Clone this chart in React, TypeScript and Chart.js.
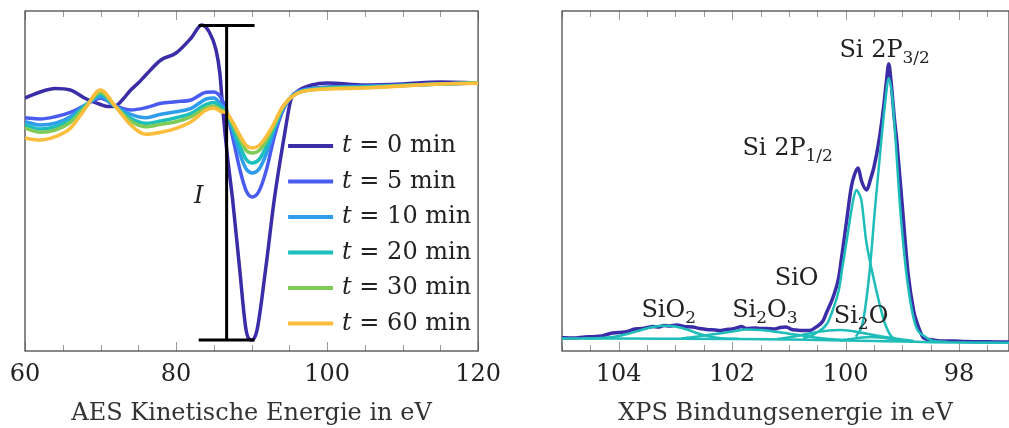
import { useEffect, useRef } from 'react';
import { Chart, registerables } from 'chart.js';

Chart.register(...registerables);

const FONT = '"DejaVu Serif", serif';
const TEXT = '#222222';

// ---------------- AES (left) ----------------
const aesTimes = [0, 5, 10, 20, 30, 60];
const aesColors = ['#3b2ca8', '#4a5cf0', '#2f9deb', '#1cbfbb', '#7ecb57', '#fbbd3c'];
const aesTickMajor = [60, 80, 100, 120];

const aesEnergyT0 = [60, 62, 64, 66, 68, 70, 71, 72, 73, 74, 75, 76, 78, 80, 82, 83.4, 84.4, 85.3, 85.8, 86.2, 86.8, 87.5, 88.4, 89.3, 90, 90.7, 91.9, 93, 94.4, 95.2, 96, 98, 100, 105, 110, 115, 120];
const aesT0 = [253, 259, 262.5, 261, 252.5, 246.5, 244.5, 245, 252, 261, 268, 276, 291, 298, 313, 326, 319, 301, 278, 241, 195, 151, 84, 20, 11, 20, 84, 151, 218, 251, 259, 266, 268, 266, 267, 269, 268];

const aesEnergy = [60, 62, 64, 66, 68, 70, 72, 74, 76, 78, 80, 82, 84, 85, 86, 86.7, 87.5, 88.5, 89.3, 90.1, 91, 92, 93, 94, 95, 96, 97, 100, 105, 110, 115, 120];
const aesT5 = [233.3, 232, 234.3, 238.7, 246, 252.7, 245.3, 241, 243.3, 247.7, 249.3, 251, 258.7, 259, 252.7, 240, 214, 180, 160, 154, 160, 182, 214, 238, 252, 259, 261.5, 264, 265, 266, 267, 268];
const aesT10 = [229.3, 226, 227.7, 234.3, 246, 254.3, 244.3, 236.7, 233.3, 236.7, 239.3, 242.7, 252, 253, 246, 239, 221, 196, 182, 178, 182, 198, 221, 240, 252, 258, 261, 263.5, 264.5, 265.5, 267, 268];
const aesT20 = [226, 222, 224.3, 231, 245.3, 256.7, 244.3, 232.7, 227.7, 230, 233.3, 237.7, 246.7, 248.5, 243.3, 238, 224, 204, 191.5, 188, 191.5, 205, 223, 241, 252, 258, 260.5, 263, 264, 265.5, 267, 268];
const aesT30 = [222.7, 218.7, 221, 228.7, 244.3, 258.7, 244.3, 230, 224.3, 226.7, 229.3, 234.3, 243.3, 245, 241, 238, 227, 211, 200.5, 198, 200.5, 211, 226, 242, 252, 257.5, 260, 262.5, 263.5, 265.5, 267, 268];
const aesT60 = [212.7, 211, 214.3, 222.7, 242.7, 261, 244.3, 226, 216.7, 218.7, 222.7, 229.3, 241, 243, 239.3, 238, 229, 215, 205.5, 203, 205.5, 215, 228, 243, 252, 257.5, 260, 262, 263, 265, 267, 267.7];

// intensity bar "I"
const aesBarEnergy = 86.7;
const aesBarTop = 325.5;
const aesBarBottom = 11;
const aesBarCapFrom = 83.0;
const aesBarCapTo = 90.4;
const aesBarLabelEnergy = 83.0;
const aesBarLabelIntensity = 154;

// ---------------- XPS (right) ----------------
const xpsTickMajor = [104, 102, 100, 98];

const xpsMeasEnergy = [105.05, 104.8, 104.6, 104.45, 104.3, 104.15, 104.0, 103.85, 103.75, 103.6, 103.5, 103.4, 103.3, 103.2, 103.1, 102.98, 102.85, 102.7, 102.57, 102.45, 102.3, 102.22, 102.1, 102.0, 101.9, 101.84, 101.75, 101.6, 101.5, 101.4, 101.25, 101.15, 101.05, 100.95, 100.87, 100.75, 100.63, 100.52, 100.4, 100.34, 100.22, 100.12, 100.07, 99.99, 99.9, 99.84, 99.78, 99.72, 99.63, 99.56, 99.5, 99.41, 99.33, 99.28, 99.24, 99.2, 99.14, 99.1, 99.0, 98.9, 98.8, 98.74, 98.64, 98.58, 98.45, 98.3, 98.1, 97.9, 97.6, 97.3, 97.1];
const xpsMeas = [13.5, 13, 14, 14.3, 15, 17.5, 18.5, 19.5, 21.5, 22.5, 23.5, 24.5, 24, 25.5, 25, 26, 24.5, 24, 22.5, 21.5, 21, 20.5, 21.5, 22, 23.5, 24.5, 22.5, 23, 22.5, 22.5, 22, 23.5, 24, 21.5, 21, 20.5, 20.5, 24, 30, 38, 54, 74, 94, 127, 164, 177, 183, 170, 161, 172, 184, 211, 244, 270, 287, 270, 232, 211, 144, 78, 40, 28, 14, 12, 11, 10, 10, 9.5, 9.3, 9, 9];

const xpsBgEnergy = [105.05, 104, 103, 102, 101, 100.5, 100, 99.5, 99, 98.5, 98, 97.1];
const xpsBg = [12.5, 12.5, 12.3, 12, 11.5, 11, 10.5, 10, 9.5, 8.8, 8.5, 8.3];

const xpsSiO2Energy = [104.6, 104.4, 104.1, 103.85, 103.6, 103.4, 103.2, 103.0, 102.8, 102.6, 102.4, 102.2, 101.9];
const xpsSiO2 = [12.6, 12.7, 14, 17, 21, 24, 25.3, 24.5, 21.5, 17.5, 14.5, 12.8, 12.2];

const xpsSi2O3Energy = [102.9, 102.6, 102.3, 102.0, 101.75, 101.5, 101.2, 100.9, 100.6, 100.3, 100.0];
const xpsSi2O3 = [12.5, 14.5, 17, 19.5, 21.5, 21, 19, 16.5, 14, 12, 11];

const xpsSiOEnergy = [101.2, 100.9, 100.6, 100.3, 100.1, 99.9, 99.6, 99.3, 99.0, 98.8];
const xpsSiO = [12, 14.5, 18, 20.5, 21, 20, 17, 14, 11.5, 10];

const xpsSi2OEnergy = [100.1, 99.9, 99.7, 99.55, 99.4, 99.2, 99.0, 98.8];
const xpsSi2O = [10.5, 12, 13.5, 14, 13.5, 12, 10.5, 9.5];

const xps2P12Energy = [100.75, 100.52, 100.32, 100.22, 100.12, 100.05, 99.98, 99.9, 99.86, 99.81, 99.77, 99.72, 99.64, 99.55, 99.46, 99.38, 99.31, 99.19, 99.0];
const xps2P12 = [12, 18, 28, 42, 61, 86, 111, 140, 153, 161, 158, 150, 111, 84, 61, 42, 28, 14.3, 10];

const xps2P32Energy = [99.82, 99.7, 99.58, 99.48, 99.37, 99.3, 99.24, 99.18, 99.12, 99.04, 98.93, 98.78, 98.6, 98.45, 98.2];
const xps2P32 = [14.3, 28, 78, 144, 211, 250, 272.7, 255, 211, 144, 78, 28, 14.3, 10, 9];

const xpsLabelParts: [string, boolean][][] = [
  [['Si 2P', false], ['3/2', true]],
  [['Si 2P', false], ['1/2', true]],
  [['SiO', false]],
  [['SiO', false], ['2', true]],
  [['Si', false], ['2', true], ['O', false], ['3', true]],
  [['Si', false], ['2', true], ['O', false]],
];
const xpsLabelEnergy = [100.11, 101.82, 101.25, 103.6, 102.0, 100.21];
const xpsLabelIntensity = [294, 196, 66, 34.3, 34.3, 27.7];

const MEAS_COLOR = '#3b2ca8';
const FIT_COLOR = '#1fbdb9';

function pts(xs: number[], ys: number[]) {
  return xs.map((x, i) => ({ x, y: ys[i] }));
}

function frameTicks(id: string, majors: number[]) {
  return {
    id,
    beforeDatasetsDraw(chart: any) {
      const { ctx, chartArea: a, scales } = chart;
      const x = scales.x;
      ctx.save();
      ctx.strokeStyle = '#9a9a9a';
      ctx.lineWidth = 1;
      for (const t of x.ticks) {
        if (t.value < x.min - 1e-6 || t.value > x.max + 1e-6) continue;
        const px = Math.round(x.getPixelForValue(t.value)) + 0.5;
        const major = majors.some((m) => Math.abs(m - t.value) < 1e-6);
        const len = major ? 9 : 6;
        ctx.beginPath();
        ctx.moveTo(px, a.top);
        ctx.lineTo(px, a.top + len);
        ctx.moveTo(px, a.bottom);
        ctx.lineTo(px, a.bottom - len);
        ctx.stroke();
      }
      ctx.strokeStyle = '#4a4a4a';
      ctx.lineWidth = 1.3;
      ctx.strokeRect(a.left, a.top, a.right - a.left, a.bottom - a.top);
      ctx.restore();
    },
  };
}

const aesExtras = {
  id: 'aesExtras',
  afterDatasetsDraw(chart: any) {
    const { ctx, chartArea: a, scales } = chart;
    const x = scales.x;
    const y = scales.y;
    ctx.save();
    // intensity bar
    ctx.strokeStyle = '#000';
    ctx.lineWidth = 3;
    const bx = x.getPixelForValue(aesBarEnergy);
    const yt = y.getPixelForValue(aesBarTop);
    const yb = y.getPixelForValue(aesBarBottom);
    const c0 = x.getPixelForValue(aesBarCapFrom);
    const c1 = x.getPixelForValue(aesBarCapTo);
    ctx.beginPath();
    ctx.moveTo(bx, yt);
    ctx.lineTo(bx, yb);
    ctx.moveTo(c0, yt);
    ctx.lineTo(c1, yt);
    ctx.moveTo(c0, yb);
    ctx.lineTo(c1, yb);
    ctx.stroke();
    ctx.fillStyle = TEXT;
    ctx.font = `italic 24px ${FONT}`;
    ctx.textAlign = 'center';
    ctx.textBaseline = 'middle';
    ctx.fillText('I', x.getPixelForValue(aesBarLabelEnergy), y.getPixelForValue(aesBarLabelIntensity));

    // legend
    const lx0 = a.right - 190;
    const lx1 = a.right - 145;
    const tx = a.right - 136;
    chart.data.datasets.forEach((ds: any, i: number) => {
      const ry = a.top + 135 + i * 35.5;
      ctx.strokeStyle = ds.borderColor;
      ctx.lineWidth = 4;
      ctx.beginPath();
      ctx.moveTo(lx0, ry);
      ctx.lineTo(lx1, ry);
      ctx.stroke();
      ctx.textAlign = 'left';
      ctx.textBaseline = 'middle';
      ctx.fillStyle = TEXT;
      ctx.font = `italic 24px ${FONT}`;
      ctx.fillText('t', tx, ry);
      const w = ctx.measureText('t').width;
      ctx.font = `24px ${FONT}`;
      ctx.fillText(` = ${aesTimes[i]} min`, tx + w, ry);
    });
    ctx.restore();
  },
};

const xpsExtras = {
  id: 'xpsExtras',
  afterDatasetsDraw(chart: any) {
    const { ctx, scales } = chart;
    const x = scales.x;
    const y = scales.y;
    ctx.save();
    ctx.fillStyle = TEXT;
    ctx.textAlign = 'left';
    ctx.textBaseline = 'alphabetic';
    xpsLabelParts.forEach((parts, i) => {
      let cx = x.getPixelForValue(xpsLabelEnergy[i]);
      const by = y.getPixelForValue(xpsLabelIntensity[i]);
      for (const [t, sub] of parts) {
        ctx.font = sub ? `17px ${FONT}` : `24px ${FONT}`;
        ctx.fillText(t, cx, sub ? by + 6 : by);
        cx += ctx.measureText(t).width;
      }
    });
    ctx.restore();
  },
};

function xAxis(min: number, max: number, step: number, reverse: boolean, majors: number[], title: string) {
  return {
    type: 'linear' as const,
    min,
    max,
    reverse,
    grid: { display: false, drawTicks: false },
    border: { display: false },
    ticks: {
      stepSize: step,
      autoSkip: false,
      includeBounds: false,
      maxRotation: 0,
      padding: 9,
      color: TEXT,
      font: { family: FONT, size: 24 },
      callback: (v: any) => (majors.some((m) => Math.abs(m - v) < 1e-6) ? String(Math.round(v)) : ''),
    },
    title: {
      display: true,
      text: title,
      color: '#333333',
      font: { family: FONT, size: 24 },
      padding: { top: 0, bottom: 0 },
    },
    afterFit: (s: any) => {
      s.height = 77;
    },
  };
}

const yAxis = { type: 'linear' as const, display: false, min: 0, max: 340 };

function aesConfig(): any {
  const series = [pts(aesEnergyT0, aesT0), pts(aesEnergy, aesT5), pts(aesEnergy, aesT10), pts(aesEnergy, aesT20), pts(aesEnergy, aesT30), pts(aesEnergy, aesT60)];
  return {
    type: 'line',
    data: {
      datasets: series.map((d, i) => ({
        label: `t = ${aesTimes[i]} min`,
        data: d,
        borderColor: aesColors[i],
        borderWidth: 3.5,
        pointRadius: 0,
        fill: false,
        cubicInterpolationMode: 'monotone',
        order: series.length - i,
      })),
    },
    options: {
      responsive: false,
      animation: false,
      devicePixelRatio: 1,
      layout: { padding: { left: 25, right: 31, top: 11, bottom: 0 } },
      plugins: { legend: { display: false }, tooltip: { enabled: false } },
      scales: {
        x: xAxis(60, 120, 5, false, aesTickMajor, 'AES Kinetische Energie in eV'),
        y: yAxis,
      },
    },
    plugins: [frameTicks('aesFrame', aesTickMajor), aesExtras],
  };
}

function xpsConfig(): any {
  const comps = [
    pts(xpsBgEnergy, xpsBg),
    pts(xpsSiO2Energy, xpsSiO2),
    pts(xpsSi2O3Energy, xpsSi2O3),
    pts(xpsSiOEnergy, xpsSiO),
    pts(xpsSi2OEnergy, xpsSi2O),
    pts(xps2P12Energy, xps2P12),
    pts(xps2P32Energy, xps2P32),
  ];
  const datasets: any[] = [
    {
      label: 'Messung',
      data: pts(xpsMeasEnergy, xpsMeas),
      borderColor: MEAS_COLOR,
      borderWidth: 3.5,
      pointRadius: 0,
      fill: false,
      cubicInterpolationMode: 'monotone',
      order: 10,
    },
    ...comps.map((d, i) => ({
      label: 'Fit ' + i,
      data: d,
      borderColor: FIT_COLOR,
      borderWidth: 2.5,
      pointRadius: 0,
      fill: false,
      cubicInterpolationMode: 'monotone',
      order: 1,
    })),
  ];
  return {
    type: 'line',
    data: { datasets },
    options: {
      responsive: false,
      animation: false,
      devicePixelRatio: 1,
      layout: { padding: { left: 42, right: 0, top: 11, bottom: 0 } },
      plugins: { legend: { display: false }, tooltip: { enabled: false } },
      scales: {
        x: xAxis(97.12, 105, 0.5, true, xpsTickMajor, 'XPS Bindungsenergie in eV'),
        y: yAxis,
      },
    },
    plugins: [frameTicks('xpsFrame', xpsTickMajor), xpsExtras],
  };
}

export default function App() {
  const leftRef = useRef<HTMLCanvasElement>(null);
  const rightRef = useRef<HTMLCanvasElement>(null);
  useEffect(() => {
    const c1 = new Chart(leftRef.current as HTMLCanvasElement, aesConfig());
    const c2 = new Chart(rightRef.current as HTMLCanvasElement, xpsConfig());
    return () => {
      c1.destroy();
      c2.destroy();
    };
  }, []);
  return (
    <div style={{ position: 'absolute', left: 0, top: 0, width: 1009, height: 428, overflow: 'hidden', background: '#fff' }}>
      <canvas ref={leftRef} width={510} height={428} style={{ position: 'absolute', left: 0, top: 0, width: 510, height: 428 }} />
      <canvas ref={rightRef} width={489} height={428} style={{ position: 'absolute', left: 520, top: 0, width: 489, height: 428 }} />
    </div>
  );
}
